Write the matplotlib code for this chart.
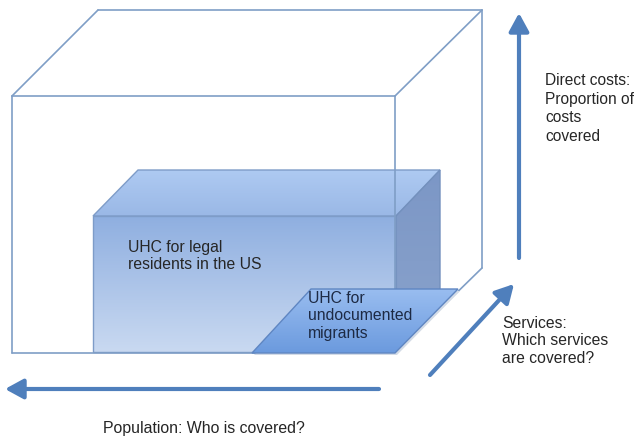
import matplotlib
matplotlib.use("Agg")
import matplotlib.pyplot as plt
import numpy as np
from matplotlib.patches import Polygon, FancyArrowPatch
from matplotlib.colors import LinearSegmentedColormap

# Labels
label_legal = "UHC for legal\nresidents in the US"
label_undoc = "UHC for\nundocumented\nmigrants"
label_costs = "Direct costs:\nProportion of\ncosts\ncovered"
label_services = "Services:\nWhich services\nare covered?"
label_population = "Population: Who is covered?"

plt.rcParams['font.family'] = ['Liberation Sans', 'DejaVu Sans']

W, H = 638, 437
fig = plt.figure(figsize=(W / 100, H / 100), dpi=100)
ax = fig.add_axes([0, 0, 1, 1])
ax.set_xlim(0, W)
ax.set_ylim(H, 0)
ax.axis('off')

def grad_poly(pts, c_top, c_bot, z, edge=None, lw=1.0, alpha=1.0):
    pts = np.array(pts, dtype=float)
    x0, x1 = pts[:, 0].min(), pts[:, 0].max()
    y0, y1 = pts[:, 1].min(), pts[:, 1].max()
    cmap = LinearSegmentedColormap.from_list('g', [c_top, c_bot])
    grad = np.linspace(0, 1, 256).reshape(-1, 1)
    im = ax.imshow(grad, cmap=cmap, extent=[x0, x1, y1, y0], aspect='auto',
                   zorder=z, alpha=alpha, interpolation='bilinear')
    poly = Polygon(pts, closed=True, facecolor='none', edgecolor='none')
    ax.add_patch(poly)
    im.set_clip_path(poly)
    if edge:
        ax.add_patch(Polygon(pts, closed=True, facecolor='none', edgecolor=edge,
                             lw=lw, zorder=z + 0.1))

line_c = '#7f9ec6'
# Outer wireframe box
outer_lines = [
    [(12, 96), (395, 96)], [(12, 96), (12, 353)], [(12, 353), (395, 353)],
    [(395, 96), (395, 353)], [(12, 96), (98, 10)], [(98, 10), (482, 10)],
    [(395, 96), (482, 10)], [(482, 10), (482, 268)], [(395, 353), (482, 268)],
]

# Inner blue box
grad_poly([(93, 216), (138, 170), (440, 170), (396, 216)], '#aecaf2', '#9ab8e6', 2,
          edge='#7e9cc8', lw=1.0)
grad_poly([(93, 216), (396, 216), (396, 352), (93, 352)], '#8fafe0', '#c9d9f1', 2,
          edge='#7e9cc8', lw=1.0)
grad_poly([(396, 216), (440, 170), (440, 308), (396, 352)], '#7c97c6', '#8aa3cc', 2,
          edge='#7390bd', lw=1.0)

for seg in outer_lines:
    (xa, ya), (xb, yb) = seg
    ax.plot([xa, xb], [ya, yb], color=line_c, lw=1.2, zorder=3,
            solid_capstyle='round')

# Parallelogram
ax.add_patch(Polygon([(254, 355), (313, 291), (460, 291), (397, 355)], closed=True,
                     facecolor='#d3dbe6', edgecolor='none', zorder=3.5))
grad_poly([(252, 353), (311, 289), (458, 289), (395, 353)], '#99bdf0', '#6b9ade', 4,
          edge='#5f86c2', lw=1.0)

arrow_c = '#4f7fbc'
def arrow(p0, p1):
    a = FancyArrowPatch(p0, p1, arrowstyle='-|>,head_length=0.55,head_width=0.3',
                        mutation_scale=20, color=arrow_c, lw=3, zorder=5,
                        shrinkA=0, shrinkB=0)
    ax.add_patch(a)

arrow((519, 258), (519, 13))
arrow((430, 375), (514, 284))
arrow((379, 389), (5, 389))

txt_c = '#262626'
ax.text(128, 240, label_legal, fontsize=11.3, color=txt_c, va='top', ha='left',
        linespacing=1.2, zorder=6)
ax.text(308, 291, label_undoc, fontsize=11.3, color='#1d2a44', va='top', ha='left',
        linespacing=1.2, zorder=6)
ax.text(545, 73, label_costs, fontsize=11.2, color=txt_c, va='top', ha='left',
        linespacing=1.3, zorder=6)
ax.text(502, 316, label_services, fontsize=11.3, color=txt_c, va='top', ha='left',
        linespacing=1.2, zorder=6)
ax.text(103, 428, label_population, fontsize=11.4, color=txt_c, va='center', ha='left',
        zorder=6)

fig.savefig('out.png', dpi=100)
